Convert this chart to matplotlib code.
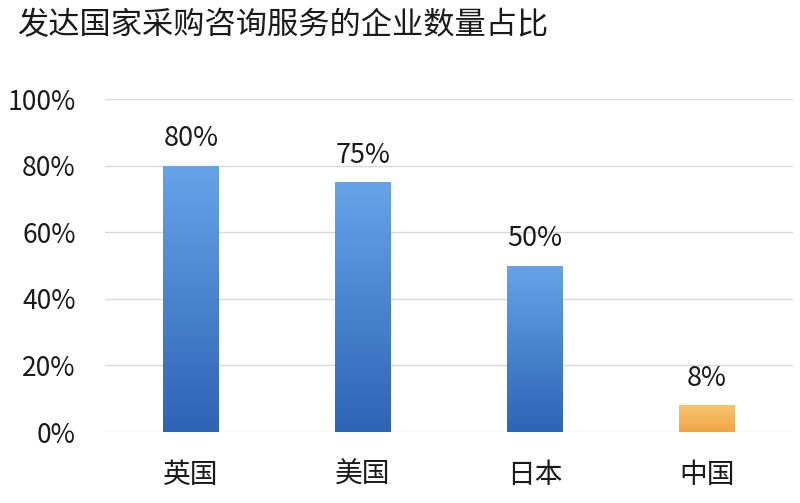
import matplotlib
matplotlib.use("Agg")
import matplotlib.pyplot as plt
import numpy as np
from matplotlib.colors import LinearSegmentedColormap

plt.rcParams['font.family'] = ['Noto Sans CJK SC', 'DejaVu Sans']

categories = ['英国', '美国', '日本', '中国']
values = [0.80, 0.75, 0.50, 0.08]
labels = ['80%', '75%', '50%', '8%']
yticks = [0, 0.2, 0.4, 0.6, 0.8, 1.0]
yticklabels = ['0%', '20%', '40%', '60%', '80%', '100%']
title = '发达国家采购咨询服务的企业数量占比'

blue_cmap = LinearSegmentedColormap.from_list('b', ['#2E64B4', '#66A3E8'])
orange_cmap = LinearSegmentedColormap.from_list('o', ['#F0A446', '#F7C46E'])
cmaps = [blue_cmap, blue_cmap, blue_cmap, orange_cmap]

fig = plt.figure(figsize=(8, 5.03), dpi=100)
ax = fig.add_axes([0.131, 0.141, 0.86, 0.662])

x = np.arange(len(categories))
bars = ax.bar(x, values, width=0.32, color='none', zorder=3)
grad = np.linspace(0, 1, 256).reshape(-1, 1)
for b, cm in zip(bars, cmaps):
    x0, y0 = b.get_x(), b.get_y()
    w, h = b.get_width(), b.get_height()
    im = ax.imshow(grad, cmap=cm, origin='lower', aspect='auto',
                   extent=[x0, x0 + w, y0, y0 + h], zorder=3)
    im.set_clip_path(b)

for xi, v, lab in zip(x, values, labels):
    ax.text(xi, v + 0.04, lab, ha='center', va='bottom', fontsize=19.5, color='#1a1a1a')

ax.set_xlim(-0.5, len(categories) - 0.5)
ax.set_ylim(0, 1.0)
ax.set_yticks(yticks)
ax.set_yticklabels(yticklabels, fontsize=19, color='#1a1a1a')
ax.set_xticks(x)
ax.set_xticklabels(categories, fontsize=20, color='#1a1a1a')
ax.tick_params(axis='x', length=0, pad=20)
ax.tick_params(axis='y', length=0, pad=21)
ax.grid(axis='y', color='#D9D9D9', linewidth=1, zorder=0)
ax.set_axisbelow(True)
for s in ax.spines.values():
    s.set_visible(False)

fig.text(0.021, 0.950, title, fontsize=22.5, color='#1a1a1a', ha='left', va='center')

fig.savefig('out.png', dpi=100)
